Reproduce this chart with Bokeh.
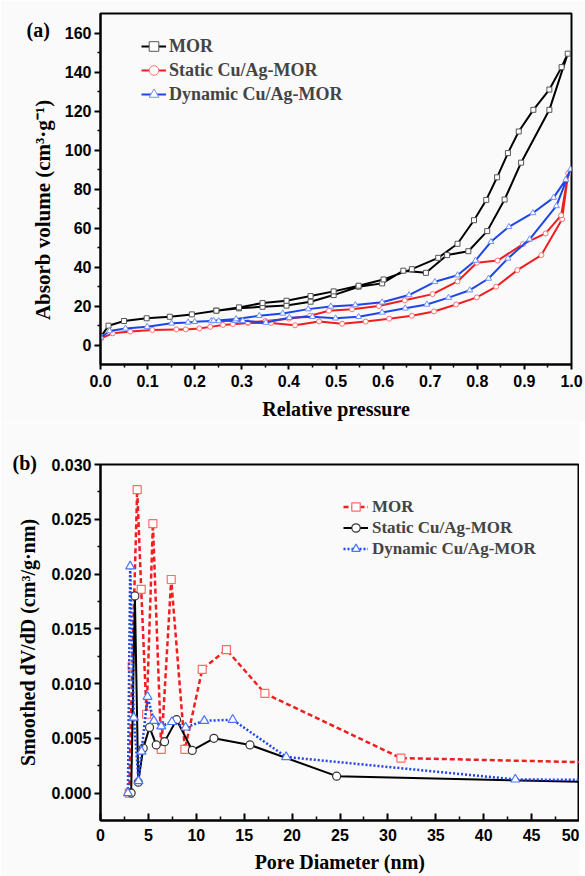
from bokeh.plotting import figure
from bokeh.layouts import column
from bokeh.models import Range1d, FixedTicker, Legend, LegendItem, Label, NumeralTickFormatter
from bokeh.embed import file_html
from bokeh.resources import INLINE

# ---------------- Panel (a): N2 isotherms (adsorption then desorption) ----------------
mor_p = [0.001, 0.017, 0.05, 0.098, 0.147, 0.194, 0.246, 0.294, 0.344, 0.395, 0.446, 0.495,
         0.548, 0.598, 0.643, 0.691, 0.736, 0.781, 0.821, 0.858, 0.893, 0.953, 0.992,
         0.979, 0.953, 0.919, 0.888, 0.865, 0.842, 0.819, 0.793, 0.758, 0.717, 0.661, 0.601,
         0.548, 0.495, 0.446, 0.395, 0.344, 0.294, 0.246]
mor_v = [4.3, 9.9, 12.3, 13.7, 14.5, 15.7, 17.6, 18.8, 19.6, 20.2, 22.2, 25.6,
         29.9, 31.6, 38.1, 37.0, 46.1, 48.1, 58.4, 74.6, 93.5, 120.6, 149.4,
         142.5, 131.0, 120.6, 109.5, 98.4, 86.0, 74.4, 64.0, 51.9, 44.7, 38.9, 33.6,
         30.4, 27.5, 25.1, 22.7, 21.5, 19.3, 17.6]

static_p = [0.001, 0.026, 0.063, 0.11, 0.161, 0.181, 0.21, 0.233, 0.26, 0.281, 0.313, 0.362,
            0.413, 0.464, 0.513, 0.563, 0.613, 0.661, 0.708, 0.755, 0.799, 0.840, 0.885,
            0.936, 0.980, 0.993,
            0.978, 0.945, 0.897, 0.843, 0.799, 0.758, 0.705, 0.646, 0.591, 0.534, 0.485,
            0.445, 0.40, 0.35, 0.313]
static_v = [3.4, 6.0, 6.9, 7.7, 8.0, 8.0, 8.5, 9.3, 10.3, 10.7, 11.3, 11.3,
            10.1, 12.1, 10.9, 12.0, 13.5, 15.0, 17.2, 20.8, 24.4, 29.9, 38.4,
            46.1, 64.5, 88.0,
            66.5, 57.2, 51.7, 43.3, 42.2, 32.6, 26.1, 22.9, 20.0, 18.3, 17.6,
            15.0, 13.5, 12.3, 11.6]

dynamic_p = [0.001, 0.019, 0.053, 0.099, 0.151, 0.186, 0.20, 0.235, 0.251, 0.286, 0.302, 0.351,
             0.401, 0.45, 0.499, 0.548, 0.598, 0.647, 0.693, 0.739, 0.784, 0.824, 0.865,
             0.911, 0.968, 0.998,
             0.988, 0.962, 0.918, 0.867, 0.829, 0.796, 0.758, 0.71, 0.655, 0.598, 0.541,
             0.489, 0.441, 0.387, 0.337, 0.288, 0.24]
dynamic_v = [3.8, 7.2, 8.5, 9.4, 11.1, 11.6, 11.9, 12.3, 12.3, 12.4, 12.4, 11.5,
             14.0, 14.5, 13.7, 14.5, 16.7, 18.8, 20.8, 24.3, 28.1, 34.1, 44.4,
             54.2, 71.3, 90.1,
             84.8, 75.6, 67.7, 60.6, 52.9, 43.3, 35.8, 32.4, 25.6, 21.9, 20.5,
             19.8, 18.4, 16.2, 15.0, 13.3, 12.5]

a_xticks = [0.0, 0.1, 0.2, 0.3, 0.4, 0.5, 0.6, 0.7, 0.8, 0.9, 1.0]
a_xminor = [0.05, 0.15, 0.25, 0.35, 0.45, 0.55, 0.65, 0.75, 0.85, 0.95]
a_yticks = [0, 20, 40, 60, 80, 100, 120, 140, 160]
a_yminor = [10, 30, 50, 70, 90, 110, 130, 150]

# ---------------- Panel (b): pore size distribution ----------------
mor_d = [3.0, 3.31, 3.83, 4.25, 4.81, 5.47, 6.34, 7.38, 8.81, 10.62, 13.14, 17.16, 31.36, 51.5]
mor_dv = [0.0, 0.0116, 0.0277, 0.0186, 0.0072, 0.0246, 0.0040, 0.0195, 0.0040, 0.0113,
          0.0131, 0.0091, 0.0032, 0.0028]

static_d = [3.2, 3.59, 3.94, 4.46, 5.12, 5.82, 6.69, 7.94, 9.58, 11.84, 15.6, 24.65, 51.5]
static_dv = [0.0, 0.0180, 0.0010, 0.0041, 0.0060, 0.0044, 0.0047, 0.0067, 0.0039, 0.0050,
             0.0044, 0.00155, 0.0010]

dynamic_d = [2.86, 3.1, 3.48, 3.97, 4.28, 4.91, 5.57, 6.34, 7.45, 8.88, 10.83, 13.8, 19.38, 43.3, 51.5]
dynamic_dv = [0.0, 0.0207, 0.0069, 0.0011, 0.0038, 0.0088, 0.0066, 0.0061, 0.0065, 0.0060,
              0.0066, 0.0067, 0.0033, 0.00125, 0.0012]

b_xticks = [0, 5, 10, 15, 20, 25, 30, 35, 40, 45, 50]
b_xminor = [2.5, 7.5, 12.5, 17.5, 22.5, 27.5, 32.5, 37.5, 42.5, 47.5]
b_yticks = [0.0, 0.005, 0.010, 0.015, 0.020, 0.025, 0.030]
b_yminor = [0.0025, 0.0075, 0.0125, 0.0175, 0.0225, 0.0275]

SERIF = "Liberation Serif"
SANS = "Liberation Sans"
BG = "#fafafa"
RED = "#f01e1e"
BLUE = "#1e46e6"


def style(p, x_ticks, x_minor, y_ticks, y_minor, x_fmt, y_fmt, x_in):
    p.xgrid.visible = False
    p.ygrid.visible = False
    p.outline_line_color = "black"
    p.outline_line_width = 2
    p.xaxis.ticker = FixedTicker(ticks=x_ticks, minor_ticks=x_minor)
    p.yaxis.ticker = FixedTicker(ticks=y_ticks, minor_ticks=y_minor)
    p.xaxis.formatter = NumeralTickFormatter(format=x_fmt)
    p.yaxis.formatter = NumeralTickFormatter(format=y_fmt)
    for ax in (p.xaxis[0], p.yaxis[0]):
        ax.axis_line_width = 2
        ax.axis_line_color = "black"
        ax.major_tick_line_width = 2
        ax.minor_tick_line_width = 1.5
        ax.major_tick_line_color = "black"
        ax.minor_tick_line_color = "black"
        ax.major_label_text_font = SANS
        ax.major_label_text_font_style = "bold"
        ax.major_label_text_font_size = "16px"
        ax.major_label_text_color = "black"
        ax.axis_label_text_font = SERIF
        ax.axis_label_text_font_style = "bold"
        ax.axis_label_text_font_size = "20px"
        ax.axis_label_text_color = "black"
    ya = p.yaxis[0]
    ya.major_tick_out = 6
    ya.major_tick_in = 0
    ya.minor_tick_out = 3
    ya.minor_tick_in = 0
    ya.major_label_standoff = 3
    xa = p.xaxis[0]
    if x_in:
        xa.major_tick_in = 7
        xa.major_tick_out = 0
        xa.minor_tick_in = 4
        xa.minor_tick_out = 0
    else:
        xa.major_tick_in = 0
        xa.major_tick_out = 5
        xa.minor_tick_in = 0
        xa.minor_tick_out = 3


# ---------- figure (a) ----------
p1 = figure(width=585, height=422, output_backend="svg", toolbar_location=None,
            x_range=Range1d(0, 1), y_range=Range1d(-10, 170),
            min_border_left=97, min_border_right=14, min_border_top=13, min_border_bottom=57,
            background_fill_color=BG, border_fill_color=BG)
style(p1, a_xticks, a_xminor, a_yticks, a_yminor, "0.0", "0", False)
p1.xaxis.axis_label = "Relative pressure"
# trailing no-break spaces move the centred title a little towards the bottom, as in the original
p1.yaxis.axis_label = "Absorb volume (cm³·g⁻¹)" + "\u00a0" * 8
p1.yaxis.axis_label_text_font_size = "21px"
p1.xaxis.major_label_standoff = 5
p1.xaxis.axis_label_standoff = 8
p1.yaxis.axis_label_standoff = 7

l1 = p1.line(mor_p, mor_v, line_color="black", line_width=2)
s1 = p1.scatter(mor_p, mor_v, marker="square", size=5, fill_color="white",
                line_color="#555555", line_width=1)
l2 = p1.line(static_p, static_v, line_color=RED, line_width=2)
s2 = p1.scatter(static_p, static_v, marker="circle", size=5, fill_color="white",
                line_color="#ff7070", line_width=1)
l3 = p1.line(dynamic_p, dynamic_v, line_color=BLUE, line_width=2)
s3 = p1.scatter(dynamic_p, dynamic_v, marker="triangle", size=6, fill_color="white",
                line_color="#7090ff", line_width=1)

leg1 = Legend(items=[LegendItem(label="MOR", renderers=[l1, s1]),
                     LegendItem(label="Static Cu/Ag-MOR", renderers=[l2, s2]),
                     LegendItem(label="Dynamic Cu/Ag-MOR", renderers=[l3, s3])],
              location=(41, 258), label_text_font=SERIF, label_text_font_style="bold",
              label_text_font_size="18px", glyph_width=25, glyph_height=24, label_height=24,
              spacing=0, padding=0, margin=0, label_standoff=3,
              border_line_alpha=0, background_fill_alpha=0)
p1.add_layout(leg1)
p1.add_layout(Label(x=22, y=335, x_units="screen", y_units="screen", text="(a)",
                    text_font=SERIF, text_font_style="bold", text_color="black",
                    text_font_size="20px", text_baseline="middle", text_align="left"), "left")

# ---------- figure (b) ----------
p2 = figure(frame_width=479, frame_height=356, output_backend="svg", toolbar_location=None,
            x_range=Range1d(0, 50), y_range=Range1d(-0.0025, 0.030),
            min_border_left=100, min_border_right=0, min_border_top=42, min_border_bottom=56,
            background_fill_color=BG, border_fill_color=BG)
style(p2, b_xticks, b_xminor, b_yticks, b_yminor, "0", "0.000", True)
p2.xaxis.axis_label = "Pore Diameter (nm)"
p2.yaxis.axis_label = "Smoothed dV/dD (cm³/g·nm)"
p2.xaxis.major_label_standoff = 8
p2.xaxis.axis_label_standoff = 7
p2.yaxis.axis_label_standoff = 9

m1 = p2.line(mor_d, mor_dv, line_color=RED, line_width=2.5, line_dash="5 3")
n1 = p2.scatter(mor_d, mor_dv, marker="square", size=8, fill_color="white",
                line_color="#ff6a6a", line_width=1.2)
m2 = p2.line(static_d, static_dv, line_color="black", line_width=2)
n2 = p2.scatter(static_d, static_dv, marker="circle", size=8, fill_color="white",
                line_color="#333333", line_width=1.2)
m3 = p2.line(dynamic_d, dynamic_dv, line_color=BLUE, line_width=2.5, line_dash="2 2")
n3 = p2.scatter(dynamic_d, dynamic_dv, marker="triangle", size=9, fill_color="white",
                line_color="#4a74ff", line_width=1.2)

leg2 = Legend(items=[LegendItem(label="MOR", renderers=[m1, n1]),
                     LegendItem(label="Static Cu/Ag-MOR", renderers=[m2, n2]),
                     LegendItem(label="Dynamic Cu/Ag-MOR", renderers=[m3, n3])],
              location=(243, 261), label_text_font=SERIF, label_text_font_style="bold",
              label_text_font_size="17px", glyph_width=25, glyph_height=21, label_height=21,
              spacing=0, padding=0, margin=0, label_standoff=4,
              border_line_alpha=0, background_fill_alpha=0)
p2.add_layout(leg2)
p2.add_layout(Label(x=-88, y=2, x_units="screen", y_units="screen", text="(b)",
                    text_font=SERIF, text_font_style="bold", text_color="black",
                    text_font_size="20px", text_baseline="middle", text_align="left"), "above")

layout = column(p1, p2, spacing=0, width=585, height=876, styles={"overflow": "hidden"})
open("out.html", "w").write(file_html(layout, INLINE))
